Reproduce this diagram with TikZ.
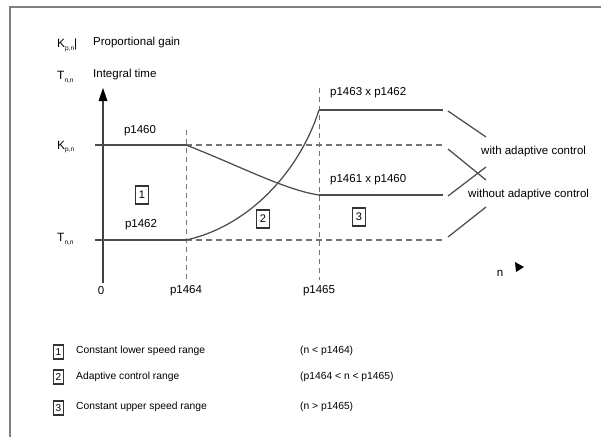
\documentclass[tikz,border=0pt]{standalone}
\usepackage{fontspec}
\setmainfont{Liberation Sans}
\newcommand{\subsc}[1]{\raisebox{-0.45ex}{\fontsize{6.5}{7}\selectfont #1}}
\begin{document}
\begin{tikzpicture}[x=1pt,y=-1pt,
  lbl/.style={inner sep=0pt,font=\fontsize{11.5}{13}\selectfont,text=black},
  leg/.style={inner sep=0pt,font=\fontsize{10.3}{12}\selectfont,text=black},
  sym/.style={inner sep=0pt,font=\fontsize{12}{13}\selectfont,text=black},
  numbox/.style={draw=black!80,line width=1.1pt,inner sep=0pt,minimum width=13pt,minimum height=18pt,font=\fontsize{11}{12}\selectfont},
  legbox/.style={draw=black!80,line width=1.1pt,inner sep=0pt,minimum width=10pt,minimum height=14pt,font=\fontsize{10}{11}\selectfont},
  curve/.style={draw=black!70,line width=1.25pt},
  hdashed/.style={draw=black!55,line width=1.2pt,dash pattern=on 6pt off 4pt},
  vdashed/.style={draw=black!55,line width=1pt,dash pattern=on 5pt off 4pt}]
\useasboundingbox (0,0) rectangle (601,437);
% frame
\draw[black!50,line width=2pt] (10,437) -- (10,7) -- (601,7);

% axis labels
\node[sym,anchor=west] (kl) at (57,45) {K\subsc{p,n}|};
\node[lbl,anchor=west] (pg) at (93,43) {Proportional gain};
\node[sym,anchor=west] (tl) at (57,77) {T\subsc{n,n}};
\node[lbl,anchor=west] (it) at (93,75) {Integral time};

% axis
\coordinate (ax0) at (103,283);
\coordinate (ax1) at (103,88);
\draw[black!75,line width=1.4pt] (ax0) -- (103,100);
\fill[black] (ax1) -- (98.5,101) -- (107.5,101) -- cycle;
\node[lbl] (zero) at (101,291) {0};

% level labels
\node[sym,anchor=west] (kn) at (57,147) {K\subsc{p,n}};
\node[sym,anchor=west] (tn) at (57,239) {T\subsc{n,n}};

% key points
\coordinate (kstart) at (95,145);
\coordinate (k1) at (186,145);
\coordinate (k2) at (319,195);
\coordinate (k3) at (443,195);
\coordinate (kd) at (443,145);
\coordinate (tstart) at (95,240);
\coordinate (t1) at (186,240);
\coordinate (t2) at (319,110);
\coordinate (t3) at (443,110);
\coordinate (td) at (443,240);

% vertical dashed
\draw[vdashed] (186,130) -- (186,280);
\draw[vdashed] (319,88) -- (319,280);

% dashed continuations
\draw[hdashed] (k1) -- (kd);
\draw[hdashed] (t1) -- (td);

% solid lines
\draw[curve] (kstart) -- (k1);
\draw[curve] (tstart) -- (t1);
\draw[curve] (k1) .. controls (240,166) and (285,190) .. (k2);
\draw[curve] (t1) .. controls (250,226) and (300,170) .. (t2);
\draw[curve] (k2) -- (k3);
\draw[curve] (t2) -- (t3);

% labels
\node[lbl] (p1460) at (140,131) {p1460};
\node[lbl] (p1462) at (141,225) {p1462};
\node[lbl,anchor=west] (p1463) at (330,93) {p1463 x p1462};
\node[lbl,anchor=west] (p1461) at (330,180) {p1461 x p1460};
\node[lbl] (p1464) at (186,291) {p1464};
\node[lbl] (p1465) at (319,291) {p1465};

\node[numbox] (b1) at (142,195) {1};
\node[numbox] (b2) at (263,219) {2};
\node[numbox] (b3) at (359,217) {3};

% right side
\node[lbl,anchor=west] (with) at (481,152) {with adaptive control};
\node[lbl,anchor=west] (without) at (468,195) {without adaptive control};
\coordinate (w1a) at (448,111);
\coordinate (w1b) at (486,137);
\coordinate (w2a) at (448,149);
\coordinate (w2b) at (486,180);
\coordinate (w3a) at (448,196);
\coordinate (w3b) at (486,167);
\coordinate (w4a) at (448,237);
\coordinate (w4b) at (486,207);
\draw[curve] (w1a) -- (w1b);
\draw[curve] (w2a) -- (w2b);
\draw[curve] (w3a) -- (w3b);
\draw[curve] (w4a) -- (w4b);

% n arrow
\node[lbl] (n) at (500,273) {n};
\fill[black] (524,267) -- (515,262) -- (516,272) -- cycle;

% legend
\node[legbox] (l1) at (58.5,352) {1};
\node[legbox] (l2) at (58.5,377) {2};
\node[legbox] (l3) at (58.5,408) {3};
\node[leg,anchor=west] (t1l) at (76,351) {Constant lower speed range};
\node[leg,anchor=west] (t2l) at (76,377) {Adaptive control range};
\node[leg,anchor=west] (t3l) at (76,407) {Constant upper speed range};
\node[leg,anchor=west] (c1) at (300,351) {(n < p1464)};
\node[leg,anchor=west] (c2) at (300,377) {(p1464 < n < p1465)};
\node[leg,anchor=west] (c3) at (300,407) {(n > p1465)};
\end{tikzpicture}
\end{document}
